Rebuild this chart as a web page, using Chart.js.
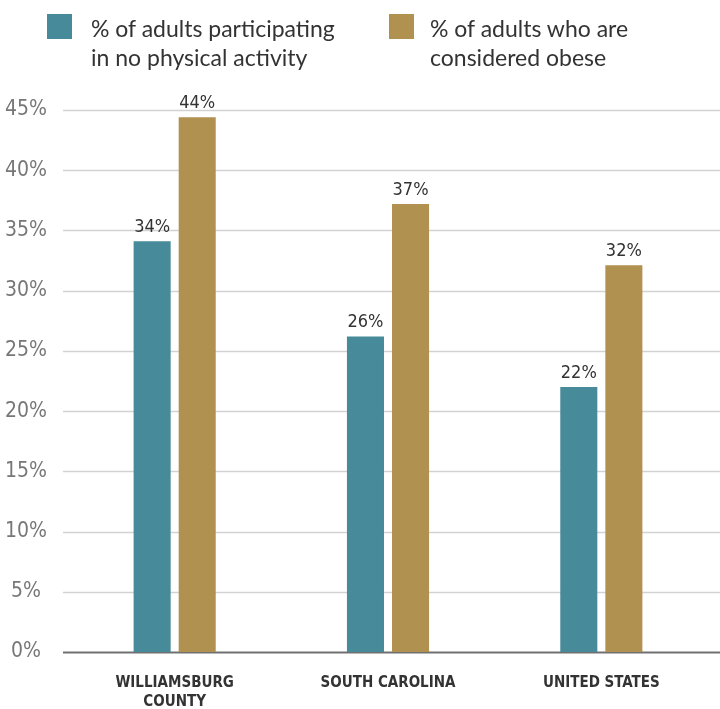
<!DOCTYPE html>
<html>
<head>
<meta charset="utf-8">
<script src="https://cdn.jsdelivr.net/npm/chart.js@4"></script>
<style>
  html, body { margin: 0; padding: 0; background: #fff; }
  #wrap { position: relative; width: 720px; height: 709px; }
  #legend { position: absolute; left: 0; top: 0; width: 720px; font-family: Lato, "Open Sans", sans-serif; font-size: 23px; line-height: 29px; color: #333; }
  .sw { position: absolute; top: 14px; width: 25px; height: 25px; }
  .txt { position: absolute; top: 14px; white-space: nowrap; }
</style>
</head>
<body>
<div id="wrap">
  <canvas id="chart" width="720" height="709"></canvas>
  <div id="legend"></div>
</div>
<script>
// data
const categories = [['WILLIAMSBURG', 'COUNTY'], 'SOUTH CAROLINA', 'UNITED STATES'];
const inactiveValues = [34.1, 26.2, 22.0];
const obeseValues = [44.4, 37.2, 32.1];
const seriesNames = [
    ['% of adults participating', 'in no physical activity'],
    ['% of adults who are', 'considered obese']
];
const seriesColors = ['#478a99', '#b09150'];
const yTicks = [0, 5, 10, 15, 20, 25, 30, 35, 40, 45];

const condensed = '"DejaVu Sans Condensed", "Liberation Sans Narrow", Roboto, sans-serif';

// HTML legend (two-line labels)
const legendEl = document.getElementById('legend');
const swatchX = [47, 389];
const textX = [91, 430];
seriesNames.forEach((lines, i) => {
    const sw = document.createElement('div');
    sw.className = 'sw';
    sw.style.left = swatchX[i] + 'px';
    sw.style.background = seriesColors[i];
    const txt = document.createElement('div');
    txt.className = 'txt';
    txt.style.left = textX[i] + 'px';
    txt.innerHTML = lines.join('<br>');
    legendEl.appendChild(sw);
    legendEl.appendChild(txt);
});

// gridlines running to the right edge of the canvas
const gridPlugin = {
    id: 'fullGrid',
    beforeDatasetsDraw(chart) {
        const ctx = chart.ctx;
        const y = chart.scales.y;
        ctx.save();
        yTicks.forEach(v => {
            const py = Math.round(y.getPixelForValue(v)) + 0.5;
            ctx.beginPath();
            ctx.strokeStyle = v === 0 ? '#707070' : '#d2d2d2';
            ctx.lineWidth = v === 0 ? 2 : 1.5;
            ctx.moveTo(63, py);
            ctx.lineTo(chart.width, py);
            ctx.stroke();
        });
        ctx.restore();
    }
};

// value labels above bars
const valueLabels = {
    id: 'valueLabels',
    afterDatasetsDraw(chart) {
        const ctx = chart.ctx;
        ctx.save();
        ctx.font = '18px ' + condensed;
        ctx.fillStyle = '#333';
        ctx.textAlign = 'center';
        ctx.textBaseline = 'bottom';
        chart.data.datasets.forEach((ds, di) => {
            chart.getDatasetMeta(di).data.forEach((bar, i) => {
                ctx.fillText(Math.round(ds.data[i]) + '%', bar.x, bar.y - 5);
            });
        });
        ctx.restore();
    }
};

new Chart(document.getElementById('chart'), {
    type: 'bar',
    data: {
        labels: categories,
        datasets: [
            { label: seriesNames[0].join(' '), data: inactiveValues, backgroundColor: seriesColors[0] },
            { label: seriesNames[1].join(' '), data: obeseValues, backgroundColor: seriesColors[1] }
        ]
    },
    options: {
        responsive: false,
        animation: false,
        barPercentage: 0.822,
        categoryPercentage: 0.4225,
        layout: { padding: { top: 110, right: 12, left: 0, bottom: 0 } },
        plugins: {
            legend: { display: false },
            tooltip: { enabled: false }
        },
        scales: {
            x: {
                grid: { display: false, drawTicks: false },
                border: { display: false },
                afterFit(scale) { scale.height = 57; },
                ticks: {
                    padding: 21,
                    maxRotation: 0,
                    autoSkip: false,
                    color: '#333',
                    font: { family: condensed, size: 15, weight: 'bold', lineHeight: 1.3 }
                }
            },
            y: {
                min: 0,
                max: 45,
                afterFit(scale) { scale.width = 68; },
                afterBuildTicks(scale) { scale.ticks = yTicks.map(v => ({ value: v })); },
                grid: { display: false, drawTicks: false },
                border: { display: false },
                ticks: {
                    padding: 21,
                    crossAlign: 'center',
                    color: '#777',
                    font: { family: condensed, size: 21 },
                    callback: v => v + '%'
                }
            }
        }
    },
    plugins: [gridPlugin, valueLabels]
});
</script>
</body>
</html>
